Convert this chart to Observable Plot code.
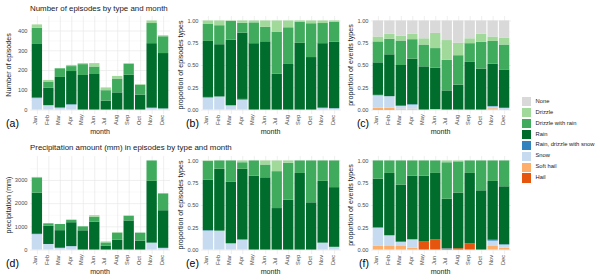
<!DOCTYPE html>
<html>
<head>
<meta charset="utf-8">
<script src="https://cdn.jsdelivr.net/npm/d3@7"></script>
<script src="https://cdn.jsdelivr.net/npm/@observablehq/plot@0.6"></script>
<style>
  html, body { margin: 0; padding: 0; background: #fff; }
  #root { position: relative; width: 600px; height: 280px; overflow: hidden; background: #fff;
          font-family: "Liberation Sans", Arial, Helvetica, sans-serif; }
  .t { position: absolute; white-space: nowrap; line-height: 1; }
  .panel { position: absolute; }
</style>
</head>
<body>
<div id="root"></div>
<script>
// ---------- data ----------
const months = ["Jan","Feb","Mar","Apr","May","Jun","Jul","Aug","Sep","Oct","Nov","Dec"];
const types = ["None","Drizzle","Drizzle with rain","Rain","Rain, drizzle with snow","Snow","Soft hail","Hail"];
const typeColors = ["#d9d9d9","#a1d99b","#41ab5d","#006d2c","#3182bd","#c6dbef","#fdae6b","#e6550d"];

// (a) number of episodes
const epSnow    = [58, 22, 10, 25, 0, 0, 0, 0, 0, 0, 8, 5];
const epRds     = [3, 0, 0, 2, 0, 0, 0, 0, 0, 0, 2, 1];
const epRain    = [271, 88, 155, 168, 175, 180, 45, 87, 176, 76, 326, 280];
const epDwr     = [82, 32, 44, 25, 55, 38, 53, 70, 56, 49, 102, 85];
const epDrizzle = [17, 8, 1, 6, 5, 17, 14, 13, 3, 4, 13, 5];

// (d) precipitation amount (mm)
const mmSnow    = [665, 240, 77, 143, 0, 0, 0, 0, 0, 0, 290, 70];
const mmRds     = [15, 0, 0, 8, 0, 0, 0, 0, 0, 0, 10, 5];
const mmRain    = [1770, 785, 759, 1027, 830, 1200, 163, 420, 1255, 387, 2660, 1620];
const mmDwr     = [660, 105, 264, 96, 170, 213, 145, 311, 205, 343, 880, 725];
const mmDrizzle = [20, 0, 0, 26, 0, 67, 42, 19, 0, 0, 0, 0];

// (c) proportion of events types
const evHail    = [0.005, 0.005, 0, 0, 0, 0, 0, 0, 0, 0, 0, 0];
const evSoft    = [0.015, 0.015, 0.01, 0.01, 0, 0.005, 0, 0, 0, 0, 0.015, 0.005];
const evSnow    = [0.14, 0.13, 0.03, 0.045, 0, 0, 0, 0, 0, 0, 0.02, 0.015];
const evRds     = [0.005, 0, 0.005, 0.005, 0, 0, 0, 0, 0, 0, 0.005, 0];
const evRain    = [0.365, 0.47, 0.455, 0.51, 0.485, 0.465, 0.215, 0.28, 0.535, 0.46, 0.475, 0.43];
const evDwr     = [0.235, 0.175, 0.275, 0.22, 0.245, 0.22, 0.345, 0.33, 0.21, 0.30, 0.255, 0.28];
const evDrizzle = [0.055, 0.055, 0.055, 0.06, 0.07, 0.17, 0.22, 0.14, 0.055, 0.09, 0.05, 0.075];
const evNone    = [0.18, 0.15, 0.17, 0.15, 0.20, 0.14, 0.22, 0.25, 0.20, 0.15, 0.18, 0.195];

// (f) proportion of events types (precipitation)
const peHail    = [0, 0, 0, 0, 0.09, 0.115, 0.01, 0.015, 0.07, 0, 0, 0];
const peSoft    = [0.045, 0.04, 0.04, 0.02, 0, 0, 0, 0, 0, 0, 0.04, 0.02];
const peSnow    = [0.20, 0.12, 0.045, 0.095, 0, 0, 0, 0, 0, 0, 0.06, 0.035];
const peRds     = [0.005, 0, 0.005, 0, 0, 0, 0.005, 0, 0, 0, 0.01, 0.005];
const peRain    = [0.545, 0.70, 0.64, 0.715, 0.74, 0.745, 0.555, 0.625, 0.79, 0.665, 0.66, 0.65];
const peDwr     = [0.205, 0.14, 0.27, 0.17, 0.17, 0.14, 0.41, 0.35, 0.14, 0.335, 0.23, 0.29];
const peDrizzle = [0, 0, 0, 0, 0, 0, 0.02, 0.01, 0, 0, 0, 0];

// ticks
const ticksCount = [0, 100, 200, 300, 400];
const minorCount = [50, 150, 250, 350, 450];
const ticksMm = [0, 1000, 2000, 3000];
const minorMm = [500, 1500, 2500, 3500];
const ticksProp = [0, 0.25, 0.5, 0.75, 1];
const minorProp = [0.125, 0.375, 0.625, 0.875];

// ---------- helpers ----------
const FONT = '"Liberation Sans", Arial, Helvetica, sans-serif';
const stackOrder = types.slice().reverse();
function tidy(series) {
  return series.flatMap(([type, arr]) => arr.map((v, i) => ({month: months[i], type, value: v})));
}
const episodes = tidy([["Snow", epSnow], ["Rain, drizzle with snow", epRds], ["Rain", epRain], ["Drizzle with rain", epDwr], ["Drizzle", epDrizzle]]);
const precip = tidy([["Snow", mmSnow], ["Rain, drizzle with snow", mmRds], ["Rain", mmRain], ["Drizzle with rain", mmDwr], ["Drizzle", mmDrizzle]]);
const events = tidy([["Hail", evHail], ["Soft hail", evSoft], ["Snow", evSnow], ["Rain, drizzle with snow", evRds], ["Rain", evRain], ["Drizzle with rain", evDwr], ["Drizzle", evDrizzle], ["None", evNone]]);
const pevents = tidy([["Hail", peHail], ["Soft hail", peSoft], ["Snow", peSnow], ["Rain, drizzle with snow", peRds], ["Rain", peRain], ["Drizzle with rain", peDwr], ["Drizzle", peDrizzle]]);

const root = document.getElementById("root");
function addText(str, x, y, {size = 7, anchor = "start", rotate = 0, color = "#1a1a1a"} = {}) {
  const d = document.createElement("div");
  d.className = "t";
  d.textContent = str;
  d.style.left = x + "px";
  d.style.top = y + "px";
  d.style.fontSize = size + "px";
  d.style.color = color;
  const tx = anchor === "start" ? "0" : anchor === "middle" ? "-50%" : "-100%";
  d.style.transform = `translate(${tx}, -50%)` + (rotate ? ` rotate(${rotate}deg)` : "");
  root.appendChild(d);
}

const mL = 34, mR = 2, mT = 4, mB = 16, PW = 140, PH = 98;
function panel({left, top, rows, domain, ticks, minor, fmt, normalize}) {
  const chart = Plot.plot({
    width: mL + PW + mR, height: mT + PH + mB,
    marginLeft: mL, marginRight: mR, marginTop: mT, marginBottom: mB,
    style: {fontFamily: FONT, background: "transparent", overflow: "visible"},
    x: {type: "band", domain: months, paddingInner: 0.1, paddingOuter: 0.15, round: false, axis: null},
    y: {domain, axis: null},
    color: {domain: types, range: typeColors},
    marks: [
      Plot.ruleY(minor, {stroke: "#f3f3f3", strokeWidth: 0.5}),
      Plot.ruleY(ticks, {stroke: "#e8e8e8", strokeWidth: 0.7}),
      Plot.ruleX(months, {stroke: "#e8e8e8", strokeWidth: 0.7}),
      Plot.barY(rows, {x: "month", y: "value", fill: "type", order: stackOrder, offset: normalize ? "normalize" : null}),
      Plot.text(ticks, {y: d => d, text: fmt, frameAnchor: "left", dx: -3, textAnchor: "end", fontSize: 5.7, fill: "#4d4d4d"}),
      Plot.text(months, {x: d => d, text: d => d, frameAnchor: "bottom", dy: 10.5, rotate: -90, textAnchor: "start", fontSize: 5.7, fill: "#4d4d4d"})
    ]
  });
  const wrap = document.createElement("div");
  wrap.className = "panel";
  wrap.style.left = (left - mL) + "px";
  wrap.style.top = (top - mT) + "px";
  wrap.appendChild(chart);
  root.appendChild(wrap);
}

function monthTotals(rows) {
  return d3.max(d3.rollup(rows, v => d3.sum(v, d => d.value), d => d.month).values());
}
const maxEp = monthTotals(episodes);
const maxMm = monthTotals(precip);
const propDomain = [-0.05, 1.05];
const fmtInt = d => String(d);
const fmtProp = d => d.toFixed(2);

const cols = [30, 200.5, 370.5];
const rowsTop = [15.5, 155.5];

panel({left: cols[0], top: rowsTop[0], rows: episodes, domain: [-0.05 * maxEp, 1.05 * maxEp], ticks: ticksCount, minor: minorCount, fmt: fmtInt});
panel({left: cols[1], top: rowsTop[0], rows: episodes, domain: propDomain, ticks: ticksProp, minor: minorProp, fmt: fmtProp, normalize: true});
panel({left: cols[2], top: rowsTop[0], rows: events, domain: propDomain, ticks: ticksProp, minor: minorProp, fmt: fmtProp});
panel({left: cols[0], top: rowsTop[1], rows: precip, domain: [-0.05 * maxMm, 1.05 * maxMm], ticks: ticksMm, minor: minorMm, fmt: fmtInt});
panel({left: cols[1], top: rowsTop[1], rows: precip, domain: propDomain, ticks: ticksProp, minor: minorProp, fmt: fmtProp, normalize: true});
panel({left: cols[2], top: rowsTop[1], rows: pevents, domain: propDomain, ticks: ticksProp, minor: minorProp, fmt: fmtProp});

// ---------- texts ----------
addText("Number of episodes by type and month", 30, 8.5, {size: 7.9});
addText("Precipitation amount (mm) in episodes by type and month", 30, 147.5, {size: 7.9});

const yTitles = [
  ["Number of episodes", 9.7, 64.5], ["proportion of episodes types", 182, 64.5], ["proportion of events types", 352, 64.5],
  ["precipitation (mm)", 9.5, 204.5], ["proportion of episodes types", 182, 204.5], ["proportion of events types", 352, 204.5]
];
for (const [s, x, y] of yTitles) addText(s, x, y, {size: 7.1, anchor: "middle", rotate: -90});

for (const c of cols) {
  addText("month", c + PW / 2, 132.5, {size: 7.1, anchor: "middle"});
  addText("month", c + PW / 2, 273, {size: 7.1, anchor: "middle"});
}
const letters = [["(a)", 12.5, 122.5], ["(b)", 192.5, 122.5], ["(c)", 363, 122.5],
                 ["(d)", 12.5, 262.5], ["(e)", 192.5, 262.5], ["(f)", 364, 262.5]];
for (const [s, x, y] of letters) addText(s, x, y, {size: 10.5, anchor: "middle", color: "#000"});

// ---------- legend ----------
types.forEach((t, i) => {
  const cy = 101.7 + i * 10.94;
  const sw = document.createElement("div");
  sw.style.cssText = `position:absolute;left:521.7px;top:${cy - 4.8}px;width:9.3px;height:9.6px;background:${typeColors[i]};`;
  root.appendChild(sw);
  addText(t, 535.5, cy, {size: 5.8, color: "#1a1a1a"});
});
</script>
</body>
</html>
